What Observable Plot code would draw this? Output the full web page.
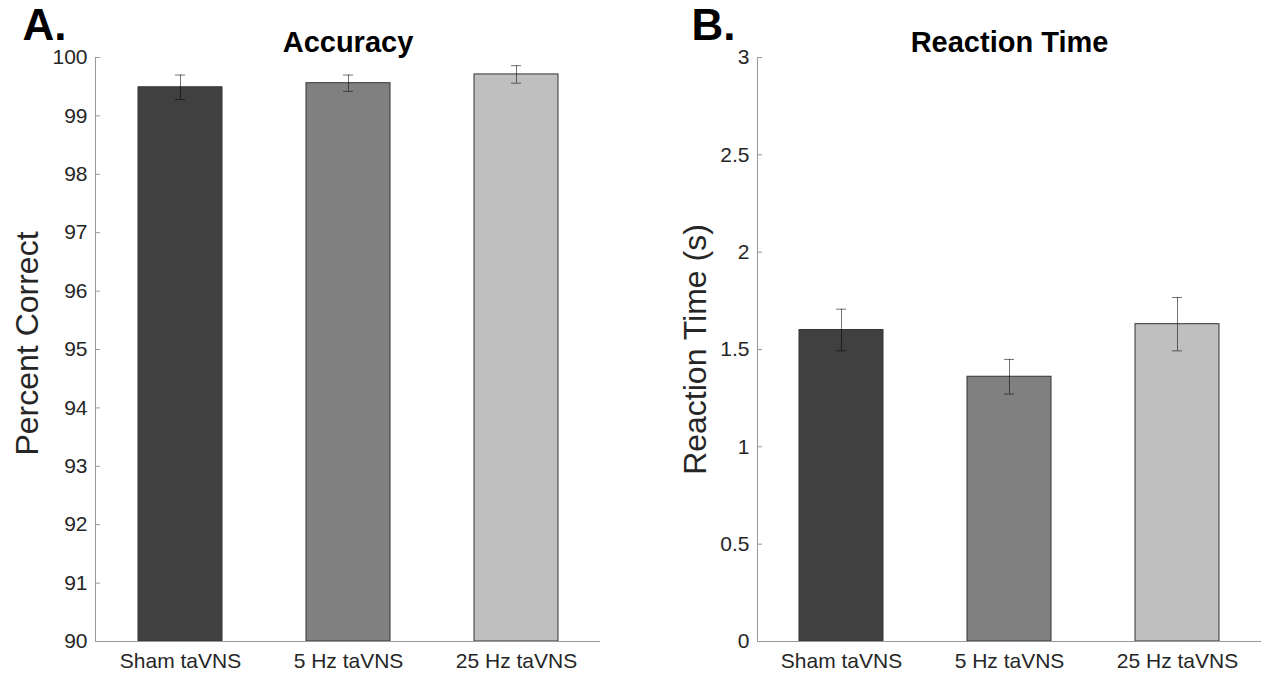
<!DOCTYPE html>
<html>
<head>
<meta charset="utf-8">
<script src="https://cdn.jsdelivr.net/npm/d3@7"></script>
<script src="https://cdn.jsdelivr.net/npm/@observablehq/plot@0.6"></script>
<style>
  html, body { margin: 0; padding: 0; background: white; }
  #wrap { position: relative; width: 1263px; height: 677px; overflow: hidden; }
  #left, #right { position: absolute; top: 0; }
  #left { left: 0; }
  #right { left: 640px; }
</style>
</head>
<body>
<div id="wrap"><div id="left"></div><div id="right"></div></div>
<script>
const conditions = ["Sham taVNS", "5 Hz taVNS", "25 Hz taVNS"];
const accuracyMean = [99.49, 99.56, 99.71];
const accuracyErr = [0.21, 0.14, 0.15];
const rtMean = [1.60, 1.36, 1.63];
const rtErr = [0.107, 0.089, 0.137];
const accuracyTicks = [90, 91, 92, 93, 94, 95, 96, 97, 98, 99, 100];
const rtTicks = [0, 0.5, 1, 1.5, 2, 2.5, 3];
const barColors = ["#404040", "#808080", "#bfbfbf"];

const FONT = "'Liberation Sans', Arial, Helvetica, sans-serif";

function panel(o) {
  const data = conditions.map((c, i) => ({cond: c, mean: o.means[i], err: o.errs[i]}));
  const base = o.domain[0];
  const capInset = 37;
  return Plot.plot({
    width: o.width,
    height: 677,
    marginTop: 57,
    marginBottom: 36,
    marginLeft: o.marginLeft,
    marginRight: o.marginRight,
    style: {fontFamily: FONT, color: "#262626", background: "white", overflow: "visible"},
    x: {domain: conditions, paddingInner: 0.5, paddingOuter: 0.25, label: null},
    y: {domain: o.domain, label: null},
    color: {domain: conditions, range: barColors},
    marks: [
      Plot.barY(data, {x: "cond", y1: base, y2: "mean", fill: "cond", stroke: "#333", strokeWidth: 1}),
      Plot.ruleX(data, {x: "cond", y1: d => d.mean - d.err, y2: d => d.mean + d.err, stroke: "black", strokeOpacity: 0.55}),
      Plot.tickY(data, {x: "cond", y: d => d.mean + d.err, insetLeft: capInset, insetRight: capInset, stroke: "black", strokeOpacity: 0.55}),
      Plot.tickY(data, {x: "cond", y: d => d.mean - d.err, insetLeft: capInset, insetRight: capInset, stroke: "black", strokeOpacity: 0.55}),
      Plot.ruleY([base], {stroke: "#999"}),
      Plot.frame({anchor: "left", stroke: "#999"}),
      Plot.axisY({ticks: o.ticks, tickFormat: d => String(d), tickSize: -5, tickPadding: 13, fontSize: 21, stroke: "#999", fill: "#262626", label: null}),
      Plot.axisX({tickSize: 0, tickPadding: 12, fontSize: 21, fill: "#262626", label: null}),
      Plot.text([o.ylabel], {frameAnchor: "left", dx: -o.labelOffset, dy: o.labelDy, rotate: -90, textAnchor: "middle", fontSize: 32, fill: "#262626"}),
      Plot.text([o.title], {frameAnchor: "top", dy: -6, lineAnchor: "bottom", fontSize: 29, fontWeight: "bold", fill: "black"}),
      Plot.text([o.letter], {frameAnchor: "top-left", dx: o.letterDx, dy: -18, textAnchor: "start", lineAnchor: "bottom", fontSize: 44, fontWeight: "bold", fill: "black"})
    ]
  });
}

document.getElementById("left").appendChild(panel({
  means: accuracyMean, errs: accuracyErr, domain: [90, 100], ticks: accuracyTicks,
  title: "Accuracy", letter: "A.", ylabel: "Percent Correct",
  width: 640, marginLeft: 95, marginRight: 40, labelOffset: 68, labelDy: -6, letterDx: -73
}));
document.getElementById("right").appendChild(panel({
  means: rtMean, errs: rtErr, domain: [0, 3], ticks: rtTicks,
  title: "Reaction Time", letter: "B.", ylabel: "Reaction Time (s)",
  width: 623, marginLeft: 117, marginRight: 2, labelOffset: 62, labelDy: 0, letterDx: -66
}));
</script>
</body>
</html>
